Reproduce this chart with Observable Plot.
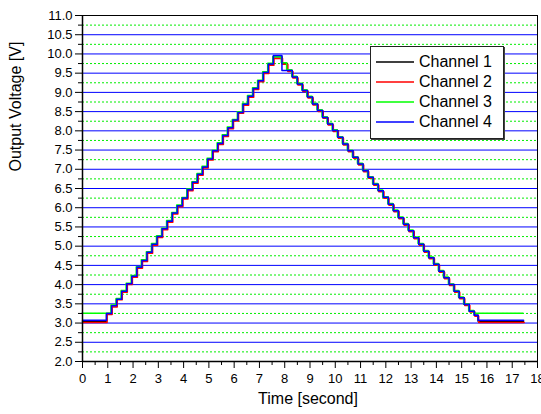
<!DOCTYPE html>
<html>
<head>
<meta charset="utf-8">
<script src="https://cdn.jsdelivr.net/npm/d3@7"></script>
<script src="https://cdn.jsdelivr.net/npm/@observablehq/plot@0.6"></script>
<style>
  html, body { margin: 0; padding: 0; background: #fff; }
  #wrap { position: relative; width: 541px; height: 414px; font-family: "Liberation Sans", Arial, sans-serif; }
  #legend { position: absolute; left: 370px; top: 46px; width: 132px; height: 91px; background: #fff;
            border: 1px solid #222; box-shadow: 1px 1px 0 #444; }
  #legend svg { position: absolute; left: 0; top: 0; }
  .lb { position: absolute; left: 48px; font-size: 16px; line-height: 20px; color: #000; white-space: nowrap; }
</style>
</head>
<body>
<div id="wrap"></div>
<script>
// ---- data ----
const channels = ["Channel 1", "Channel 2", "Channel 3", "Channel 4"];
const colors = ["#000000", "#ff0000", "#00ff00", "#0000ff"];

const time = [0, 0.95, 1.15, 1.35, 1.55, 1.75, 1.95, 2.15, 2.35, 2.55, 2.75, 2.95, 3.15, 3.35, 3.55, 3.75,
  3.95, 4.15, 4.35, 4.55, 4.75, 4.95, 5.15, 5.35, 5.55, 5.75, 5.95, 6.15, 6.35, 6.55, 6.75, 6.95, 7.15, 7.35,
  7.55, 7.89, 8.1, 8.3, 8.5, 8.7, 8.9, 9.1, 9.3, 9.5, 9.7, 9.9, 10.1, 10.3, 10.5, 10.7, 10.9, 11.1, 11.3,
  11.5, 11.7, 11.9, 12.1, 12.3, 12.5, 12.7, 12.9, 13.1, 13.3, 13.5, 13.7, 13.9, 14.1, 14.3, 14.5, 14.7, 14.9,
  15.1, 15.3, 15.5, 15.65, 17.45];

const ch1 = [3.05, 3.25, 3.45, 3.62, 3.83, 4.02, 4.22, 4.45, 4.63, 4.84, 5.05, 5.25, 5.45, 5.65, 5.86, 6.05,
  6.25, 6.47, 6.66, 6.87, 7.06, 7.27, 7.48, 7.67, 7.88, 8.08, 8.28, 8.48, 8.69, 8.90, 9.10, 9.30, 9.52, 9.74,
  9.93, 9.75, 9.57, 9.40, 9.22, 9.05, 8.88, 8.70, 8.53, 8.35, 8.18, 8.01, 7.83, 7.66, 7.48, 7.31, 7.14, 6.96,
  6.79, 6.61, 6.44, 6.27, 6.09, 5.92, 5.74, 5.57, 5.40, 5.22, 5.05, 4.87, 4.70, 4.53, 4.35, 4.18, 4.00, 3.83,
  3.66, 3.48, 3.31, 3.20, 3.05, 3.05];

const ch2 = [3.03, 3.24, 3.43, 3.62, 3.82, 4.02, 4.21, 4.44, 4.62, 4.83, 5.04, 5.24, 5.44, 5.64, 5.85, 6.04,
  6.24, 6.46, 6.65, 6.86, 7.05, 7.26, 7.47, 7.66, 7.87, 8.07, 8.27, 8.47, 8.68, 8.89, 9.09, 9.29, 9.51, 9.72,
  9.90, 9.75, 9.56, 9.39, 9.21, 9.04, 8.87, 8.69, 8.52, 8.34, 8.17, 8.00, 7.82, 7.65, 7.47, 7.30, 7.13, 6.95,
  6.78, 6.60, 6.43, 6.26, 6.08, 5.91, 5.73, 5.56, 5.39, 5.21, 5.04, 4.86, 4.69, 4.52, 4.34, 4.17, 3.99, 3.82,
  3.65, 3.47, 3.30, 3.19, 3.03, 3.03];

const ch3 = [3.25, 3.25, 3.46, 3.63, 3.84, 4.03, 4.23, 4.46, 4.64, 4.85, 5.06, 5.26, 5.46, 5.66, 5.87, 6.06,
  6.26, 6.48, 6.67, 6.88, 7.07, 7.28, 7.49, 7.68, 7.89, 8.09, 8.29, 8.49, 8.70, 8.91, 9.11, 9.31, 9.53, 9.75,
  9.92, 9.76, 9.58, 9.41, 9.23, 9.06, 8.89, 8.71, 8.54, 8.36, 8.19, 8.02, 7.84, 7.67, 7.49, 7.32, 7.15, 6.97,
  6.80, 6.62, 6.45, 6.28, 6.10, 5.93, 5.75, 5.58, 5.41, 5.23, 5.06, 4.88, 4.71, 4.54, 4.36, 4.19, 4.01, 3.84,
  3.67, 3.49, 3.32, 3.25, 3.25, 3.25];

const ch4 = [3.07, 3.25, 3.45, 3.62, 3.83, 4.02, 4.22, 4.45, 4.63, 4.84, 5.05, 5.25, 5.45, 5.65, 5.86, 6.05,
  6.25, 6.47, 6.66, 6.87, 7.06, 7.27, 7.48, 7.67, 7.88, 8.08, 8.28, 8.48, 8.69, 8.90, 9.10, 9.30, 9.52, 9.74,
  9.96, 9.57, 9.57, 9.40, 9.22, 9.05, 8.88, 8.70, 8.53, 8.35, 8.18, 8.01, 7.83, 7.66, 7.48, 7.31, 7.14, 6.96,
  6.79, 6.61, 6.44, 6.27, 6.09, 5.92, 5.74, 5.57, 5.40, 5.22, 5.05, 4.87, 4.70, 4.53, 4.35, 4.18, 4.00, 3.83,
  3.66, 3.48, 3.31, 3.20, 3.07, 3.07];

const xTicks = [0, 1, 2, 3, 4, 5, 6, 7, 8, 9, 10, 11, 12, 13, 14, 15, 16, 17, 18];
const xMinor = [0.5, 1.5, 2.5, 3.5, 4.5, 5.5, 6.5, 7.5, 8.5, 9.5, 10.5, 11.5, 12.5, 13.5, 14.5, 15.5, 16.5, 17.5];
const yTicks = [2.0, 2.5, 3.0, 3.5, 4.0, 4.5, 5.0, 5.5, 6.0, 6.5, 7.0, 7.5, 8.0, 8.5, 9.0, 9.5, 10.0, 10.5, 11.0];
const yMinor = [2.25, 2.75, 3.25, 3.75, 4.25, 4.75, 5.25, 5.75, 6.25, 6.75, 7.25, 7.75, 8.25, 8.75, 9.25, 9.75, 10.25, 10.75];
const yMajorGrid = [2.5, 3.0, 3.5, 4.0, 4.5, 5.0, 5.5, 6.0, 6.5, 7.0, 7.5, 8.0, 8.5, 9.0, 9.5, 10.0, 10.5];

const xTitle = "Time [second]";
const yTitle = "Output Voltage [V]";

// ---- build ----
const series = [ch1, ch2, ch3, ch4];
const rows = series.map((vals, c) => time.map((t, i) => ({t, v: vals[i], channel: channels[c]})));
const offsets = [{dx: 0, dy: 0}, {dx: 0.6, dy: 0.6}, {dx: -0.6, dy: -0.3}, {dx: 0, dy: 0}];

const chart = Plot.plot({
  width: 541,
  height: 414,
  marginLeft: 82,
  marginRight: 4,
  marginTop: 15,
  marginBottom: 53,
  style: {fontFamily: "Liberation Sans, Arial, sans-serif", fontSize: "13px", background: "#fff", color: "#000"},
  x: {domain: [0, 18]},
  y: {domain: [2, 11]},
  marks: [
    Plot.ruleY(yMinor, {stroke: "#00ee00", strokeWidth: 1, strokeDasharray: "2,2"}),
    Plot.ruleY(yMajorGrid, {stroke: "#0000ff", strokeWidth: 1}),
    ...rows.map((r, c) => Plot.line(r, {
      x: "t", y: "v", curve: "step-after", stroke: colors[c], strokeWidth: 1.5,
      dx: offsets[c].dx, dy: offsets[c].dy
    })),
    Plot.frame({stroke: "#000", strokeWidth: 1}),
    Plot.ruleX([0], {stroke: "#000", strokeWidth: 1.5}),
    Plot.ruleY([2], {stroke: "#000", strokeWidth: 1.5}),
    Plot.axisY({ticks: yTicks, tickSize: 7, tickPadding: 3, tickFormat: d3.format(".1f"), label: null, fontSize: 13}),
    Plot.axisY({ticks: yMinor, tickSize: 4, tickFormat: () => "", label: null}),
    Plot.axisX({ticks: xTicks, tickSize: 7, tickPadding: 5, tickFormat: d3.format("d"), label: null, fontSize: 13}),
    Plot.axisX({ticks: xMinor, tickSize: 4, tickFormat: () => "", label: null}),
    Plot.text([yTitle], {text: d => d, frameAnchor: "left", rotate: -90, dx: -67, dy: -17, fontSize: 16}),
    Plot.text([xTitle], {text: d => d, frameAnchor: "bottom", dy: 42, dx: -2, fontSize: 16})
  ]
});

const wrap = document.getElementById("wrap");
wrap.appendChild(chart);

// legend
const legend = document.createElement("div");
legend.id = "legend";
const ns = "http://www.w3.org/2000/svg";
const lsvg = document.createElementNS(ns, "svg");
lsvg.setAttribute("width", "132");
lsvg.setAttribute("height", "91");
legend.appendChild(lsvg);
channels.forEach((name, i) => {
  const ln = document.createElementNS(ns, "line");
  ln.setAttribute("x1", "5");
  ln.setAttribute("x2", "43");
  ln.setAttribute("y1", String(15 + i * 20));
  ln.setAttribute("y2", String(15 + i * 20));
  ln.setAttribute("stroke", colors[i]);
  ln.setAttribute("stroke-width", "1.6");
  lsvg.appendChild(ln);
  const lb = document.createElement("div");
  lb.className = "lb";
  lb.style.top = (5 + i * 20) + "px";
  lb.textContent = name;
  legend.appendChild(lb);
});
wrap.appendChild(legend);
</script>
</body>
</html>
